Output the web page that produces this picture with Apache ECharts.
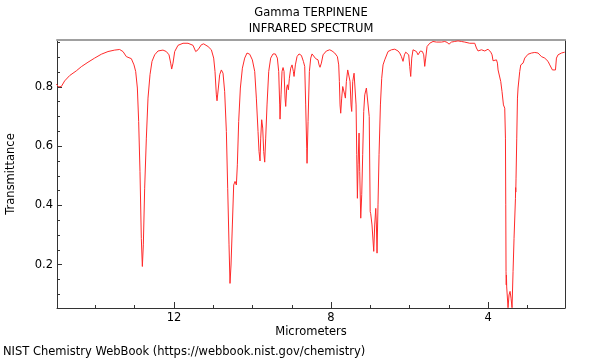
<!DOCTYPE html>
<html><head><meta charset="utf-8">
<script src="https://cdn.jsdelivr.net/npm/echarts@6/dist/echarts.min.js"></script>
<style>html,body{margin:0;padding:0;background:#fff}#c{width:600px;height:360px}</style>
</head><body><div id="c"></div>
<script>
// Wavelength (micrometers), left to right
const wavelength = [
14.997,14.938,14.870,14.785,14.658,14.488,14.360,14.191,14.021,13.851,13.681,13.511,13.384,13.299,13.214,13.171,13.086,13.019,12.976,12.933,12.900,12.866,12.832,12.806,12.781,12.747,12.704,12.662,12.611,12.560,12.492,12.407,
12.365,12.280,12.195,12.127,12.084,12.059,12.025,11.982,11.898,11.770,11.643,11.515,11.447,11.388,11.303,11.244,11.133,11.048,10.989,10.955,10.921,10.904,10.870,10.836,10.793,10.751,10.709,10.666,10.632,10.598,10.573,10.547,10.513,10.479,10.445,10.411,10.386,10.352,10.309,10.258,10.199,10.140,10.071,10.004,9.944,9.902,9.859,9.834,9.808,9.791,9.766,9.740,9.715,9.689,
9.664,9.630,9.587,9.537,9.477,9.418,9.367,9.333,9.307,9.299,9.273,9.248,9.222,9.197,9.171,9.154,9.129,9.112,9.086,9.061,9.027,8.993,8.959,8.942,8.908,8.866,8.815,8.755,8.704,8.670,8.645,8.619,8.611,8.585,8.551,8.517,8.483,8.433,8.390,8.331,8.305,8.280,8.246,8.203,8.118,8.033,7.974,7.906,7.838,7.804,7.787,7.770,7.753,7.728,7.702,7.677,7.651,7.634,7.609,7.575,7.541,7.515,7.490,7.473,7.447,7.413,7.388,7.362,7.345,7.328,7.311,7.286,7.269,7.243,7.218,7.193,7.167,7.141,7.099,7.057,7.027,
7.002,6.989,6.956,6.912,6.887,6.861,6.844,6.828,6.803,6.777,6.742,6.709,6.675,6.632,6.548,6.461,6.377,6.293,6.250,6.207,6.166,6.130,6.097,6.054,6.021,5.995,5.970,5.944,5.911,5.868,5.824,5.784,5.758,5.723,5.672,5.639,5.613,5.588,5.554,5.486,5.402,5.315,5.188,5.103,5.045,4.994,4.933,4.849,4.765,4.678,4.594,4.467,4.339,
4.296,4.255,4.168,4.084,4.000,3.931,3.898,3.873,3.830,3.786,3.761,3.745,3.702,3.677,3.644,3.608,3.575,3.557,3.549,3.542,3.536,3.532,3.525,3.491,3.466,3.440,3.414,3.389,3.363,3.338,3.302,3.298,3.294,3.287,3.269,3.251,3.236,3.193,3.167,3.108,3.065,2.981,2.894,2.810,2.726,2.640,2.556,2.513,2.472,2.428,2.385,2.360,2.326,2.283,2.258,2.217,2.130,2.046
];
const transmittance = [
0.809,0.800,0.801,0.820,0.838,0.854,0.868,0.883,0.897,0.910,0.919,0.924,0.926,0.919,0.902,0.906,0.895,0.874,0.852,0.796,0.683,0.514,0.289,0.194,0.267,0.458,0.627,0.762,0.841,0.886,0.908,0.921,
0.927,0.924,0.919,0.908,0.880,0.860,0.880,0.919,0.940,0.947,0.947,0.940,0.919,0.925,0.942,0.945,0.936,0.925,0.897,0.852,0.773,0.753,0.796,0.841,0.857,0.846,0.784,0.649,0.458,0.267,0.137,0.199,0.334,0.469,0.481,0.469,0.537,0.683,0.796,0.863,0.897,0.914,0.910,0.891,0.852,0.762,0.649,0.582,0.550,0.627,0.689,0.661,0.582,0.546,
0.627,0.739,0.852,0.897,0.911,0.911,0.897,0.852,0.739,0.691,0.773,0.852,0.865,0.852,0.762,0.734,0.796,0.807,0.790,0.829,0.863,0.874,0.852,0.835,0.874,0.902,0.911,0.906,0.886,0.869,0.739,0.593,0.542,0.683,0.852,0.897,0.911,0.910,0.895,0.891,0.874,0.866,0.880,0.908,0.921,0.925,0.921,0.914,0.902,0.874,0.818,0.739,0.711,0.762,0.801,0.798,0.773,0.762,0.818,0.857,0.852,0.818,0.739,0.717,0.818,0.846,0.841,0.739,0.571,0.424,0.537,0.644,0.514,0.357,0.436,0.571,0.717,0.773,0.796,0.790,0.700,
0.379,0.372,0.334,0.245,0.334,0.390,0.334,0.239,0.402,0.571,0.739,0.829,0.874,0.891,0.919,0.925,0.927,0.921,0.914,0.902,0.886,0.908,0.917,0.917,0.908,0.869,0.835,0.897,0.925,0.925,0.919,0.908,0.914,0.921,0.919,0.908,0.869,0.897,0.936,0.947,0.953,0.951,0.951,0.953,0.950,0.944,0.951,0.953,0.955,0.953,0.951,0.947,0.947,
0.931,0.921,0.925,0.921,0.927,0.917,0.908,0.888,0.891,0.891,0.880,0.857,0.857,0.818,0.784,0.739,0.728,0.627,0.402,0.177,0.132,0.165,0.125,0.055,0.098,0.110,0.087,0.055,0.177,0.289,0.424,0.460,0.445,0.492,0.627,0.762,0.796,0.852,0.874,0.880,0.897,0.910,0.914,0.916,0.914,0.902,0.897,0.891,0.886,0.874,0.880,0.857,0.852,0.857,0.897,0.908,0.914,0.917
];
const xMajorTicks = [4, 8, 12];
const xMinorTicks = [3, 5, 6, 7, 9, 10, 11, 13, 14];
const yMajorTicks = [0.2, 0.4, 0.6, 0.8];
const yMinorTicks = [0.1, 0.15, 0.25, 0.3, 0.35, 0.45, 0.5, 0.55, 0.65, 0.7, 0.75, 0.85, 0.9, 0.95];

const X_MIN = 2.04, X_MAX = 14.98, Y_MIN = 0.054, Y_MAX = 0.958;
const FONT = 'DejaVu Sans';
const FS = 11.5;
const TXT = '#000';
const chart = echarts.init(document.getElementById('c'), null, {renderer: 'canvas'});
const pts = wavelength.map((w, i) => [w, transmittance[i]]);
const baseX = {type: 'value', min: X_MIN, max: X_MAX, inverse: true, splitLine: {show: false}};
const baseY = {type: 'value', min: Y_MIN, max: Y_MAX, splitLine: {show: false}};
const font = FS + 'px "DejaVu Sans"';
chart.setOption({
  animation: false,
  grid: {left: 57, top: 40, width: 508, height: 268, containLabel: false},
  xAxis: [
    Object.assign({}, baseX, {position: 'bottom',
      axisLine: {show: true, lineStyle: {color: '#333', width: 1}},
      axisTick: {show: true, inside: true, length: 6, customValues: xMajorTicks, lineStyle: {color: '#333'}},
      axisLabel: {show: true, customValues: xMajorTicks, margin: 4, fontFamily: FONT, fontSize: FS, color: TXT}}),
    Object.assign({}, baseX, {position: 'bottom',
      axisLine: {show: false},
      axisTick: {show: true, inside: true, length: 3, customValues: xMinorTicks, lineStyle: {color: '#333'}},
      axisLabel: {show: false}}),
    Object.assign({}, baseX, {position: 'top',
      axisLine: {show: true, lineStyle: {color: '#a0a0a0', width: 2}},
      axisTick: {show: false}, axisLabel: {show: false}})
  ],
  yAxis: [
    Object.assign({}, baseY, {position: 'left',
      axisLine: {show: true, lineStyle: {color: '#333', width: 1}},
      axisTick: {show: true, inside: true, length: 5, customValues: yMajorTicks, lineStyle: {color: '#333'}},
      axisLabel: {show: true, customValues: yMajorTicks, margin: 4, fontFamily: FONT, fontSize: FS, color: TXT,
        formatter: v => v.toFixed(1)}}),
    Object.assign({}, baseY, {position: 'left',
      axisLine: {show: false},
      axisTick: {show: true, inside: true, length: 3, customValues: yMinorTicks, lineStyle: {color: '#333'}},
      axisLabel: {show: false}}),
    Object.assign({}, baseY, {position: 'right',
      axisLine: {show: true, lineStyle: {color: '#333', width: 1}},
      axisTick: {show: false}, axisLabel: {show: false}})
  ],
  series: [{
    type: 'line', xAxisIndex: 0, yAxisIndex: 0, data: pts, showSymbol: false, clip: true,
    lineStyle: {color: '#ff2a2a', width: 1}, silent: true
  }],
  graphic: [
    {type: 'text', x: 311, y: 13, style: {text: 'Gamma TERPINENE', font: font, fill: TXT, textAlign: 'center', textVerticalAlign: 'middle'}},
    {type: 'text', x: 311, y: 29.5, style: {text: 'INFRARED SPECTRUM', font: font, fill: TXT, textAlign: 'center', textVerticalAlign: 'middle'}},
    {type: 'text', x: 311, y: 332, style: {text: 'Micrometers', font: font, fill: TXT, textAlign: 'center', textVerticalAlign: 'middle'}},
    {type: 'text', x: 11.5, y: 174, rotation: Math.PI / 2, style: {text: 'Transmittance', font: font, fill: TXT, textAlign: 'center', textVerticalAlign: 'middle'}},
    {type: 'text', x: 3, y: 352.5, style: {text: 'NIST Chemistry WebBook (https://webbook.nist.gov/chemistry)', font: font, fill: TXT, textAlign: 'left', textVerticalAlign: 'middle'}}
  ]
});
</script>
</body></html>
